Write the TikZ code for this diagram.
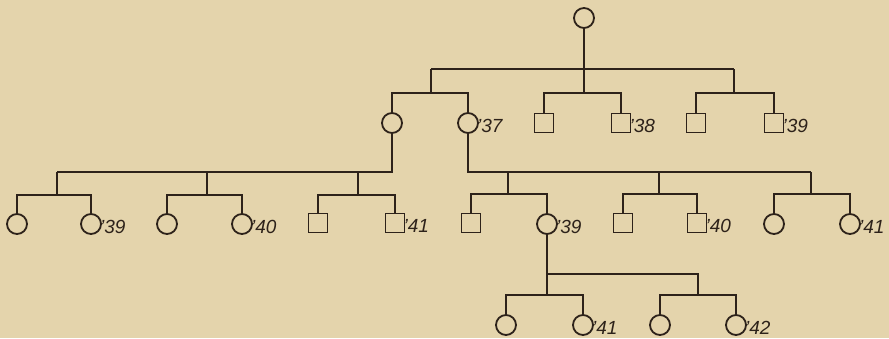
\documentclass[tikz,border=0pt]{standalone}
\usepackage{fontspec}
\newfontfamily\yearfont{Liberation Sans}
\definecolor{paper}{RGB}{228,212,172}
\definecolor{ink}{RGB}{45,34,26}
\tikzset{
  kin/.style={draw=ink, line width=1.8pt},
  fem/.style={circle, draw=ink, line width=1.8pt, minimum size=20pt, inner sep=0pt},
  mal/.style={rectangle, draw=ink, line width=1.8pt, minimum size=19pt, inner sep=0pt},
  yr/.style={anchor=base west, inner sep=0pt, text=ink,
    font={\yearfont\itshape\fontsize{19}{19}\selectfont}}
}
\begin{document}
\begin{tikzpicture}[x=1pt, y=-1pt]
\fill[paper] (0,0) rectangle (889,338);
\useasboundingbox (0,0) rectangle (889,338);

% generation I
\node[fem] (T) at (584,18) {};

% generation II
\node[fem] (a1) at (392,123) {};
\node[fem] (a2) at (468,123) {};
\node[mal] (b1) at (544,123) {};
\node[mal] (b2) at (621,123) {};
\node[mal] (c1) at (696,123) {};
\node[mal] (c2) at (774,123) {};

% generation III
\node[fem] (d1) at (17,224) {};
\node[fem] (d2) at (91,224) {};
\node[fem] (d3) at (167,224) {};
\node[fem] (d4) at (242,224) {};
\node[mal] (d5) at (318,223) {};
\node[mal] (d6) at (395,223) {};
\node[mal] (e1) at (471,223) {};
\node[fem] (e2) at (547,224) {};
\node[mal] (e3) at (623,223) {};
\node[mal] (e4) at (697,223) {};
\node[fem] (e5) at (774,224) {};
\node[fem] (e6) at (850,224) {};

% generation IV
\node[fem] (f1) at (506,325) {};
\node[fem] (f2) at (583,325) {};
\node[fem] (f3) at (660,325) {};
\node[fem] (f4) at (736,325) {};

% year marks
\node[yr] (ya2) at ([xshift=-2pt,yshift=-9pt]a2.east) {’37};
\node[yr] (yb2) at ([xshift=-2pt,yshift=-9pt]b2.east) {’38};
\node[yr] (yc2) at ([xshift=-2pt,yshift=-9pt]c2.east) {’39};
\node[yr] (yd2) at ([xshift=-2pt,yshift=-9pt]d2.east) {’39};
\node[yr] (yd4) at ([xshift=-2pt,yshift=-9pt]d4.east) {’40};
\node[yr] (yd6) at ([xshift=-2pt,yshift=-9pt]d6.east) {’41};
\node[yr] (ye2) at ([xshift=-2pt,yshift=-9pt]e2.east) {’39};
\node[yr] (ye4) at ([xshift=-2pt,yshift=-9pt]e4.east) {’40};
\node[yr] (ye6) at ([xshift=-2pt,yshift=-9pt]e6.east) {’41};
\node[yr] (yf2) at ([xshift=-2pt,yshift=-9pt]f2.east) {’41};
\node[yr] (yf4) at ([xshift=-2pt,yshift=-9pt]f4.east) {’42};

% junction points
\coordinate (jT) at (584,69);
\coordinate (ja) at (431,69);
\coordinate (jc) at (734,69);
\coordinate (pa) at (431,93);
\coordinate (pb) at (584,93);
\coordinate (pc) at (734,93);

\coordinate (jd) at (57,172);
\coordinate (jd2) at (207,172);
\coordinate (jd3) at (358,172);
\coordinate (pd1) at (57,195);
\coordinate (pd2) at (207,195);
\coordinate (pd3) at (358,195);

\coordinate (je) at (811,172);
\coordinate (je1) at (508,172);
\coordinate (je2) at (659,172);
\coordinate (pe1) at (508,194);
\coordinate (pe2) at (659,194);
\coordinate (pe3) at (811,194);

\coordinate (jf) at (698,274);
\coordinate (pf1) at (547,295);
\coordinate (pf2) at (698,295);

% generation I to II
\draw[kin] (T.south) -- (pb);
\draw[kin] (ja) -- (jc);
\draw[kin] (ja) -- (pa);
\draw[kin] (jc) -- (pc);
\draw[kin] (a1.north) |- (pa) -| (a2.north);
\draw[kin] (b1.north) |- (pb) -| (b2.north);
\draw[kin] (c1.north) |- (pc) -| (c2.north);

% generation II to III, left family
\draw[kin] (a1.south) |- (jd);
\draw[kin] (jd) -- (pd1);
\draw[kin] (jd2) -- (pd2);
\draw[kin] (jd3) -- (pd3);
\draw[kin] (d1.north) |- (pd1) -| (d2.north);
\draw[kin] (d3.north) |- (pd2) -| (d4.north);
\draw[kin] (d5.north) |- (pd3) -| (d6.north);

% generation II to III, right family
\draw[kin] (a2.south) |- (je);
\draw[kin] (je) -- (pe3);
\draw[kin] (je1) -- (pe1);
\draw[kin] (je2) -- (pe2);
\draw[kin] (e1.north) |- (pe1) -| (e2.north);
\draw[kin] (e3.north) |- (pe2) -| (e4.north);
\draw[kin] (e5.north) |- (pe3) -| (e6.north);

% generation III to IV
\draw[kin] (e2.south) -- (pf1);
\draw[kin] (e2.south |- jf) -- (jf) -- (pf2);
\draw[kin] (f1.north) |- (pf1) -| (f2.north);
\draw[kin] (f3.north) |- (pf2) -| (f4.north);
\end{tikzpicture}
\end{document}
